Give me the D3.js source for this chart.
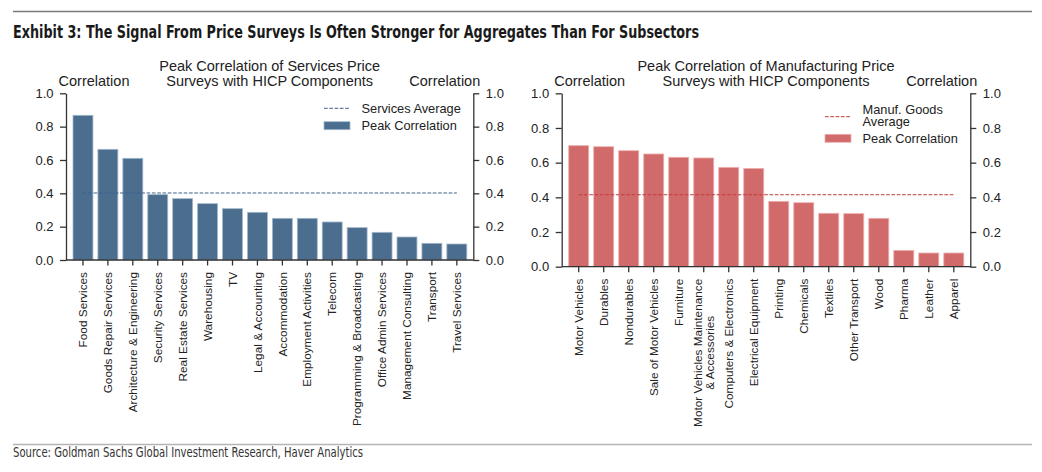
<!DOCTYPE html>
<html>
<head>
<meta charset="utf-8">
<script src="https://cdn.jsdelivr.net/npm/d3@7"></script>
<style>
  body { margin: 0; background: #fff; }
  svg { display: block; font-family: "Liberation Sans", Arial, sans-serif; }
  .axis text { fill: #222; font-size: 13px; font-family: "Liberation Sans", Arial, sans-serif; }
  .axis line, .axis path { stroke: #333; stroke-width: 1.3; }
</style>
</head>
<body>
<div id="chart"></div>
<script>
// Data
const serviceCategories = [
  "Food Services", "Goods Repair Services", "Architecture & Engineering",
  "Security Services", "Real Estate Services", "Warehousing", "TV",
  "Legal & Accounting", "Accommodation", "Employment Activities", "Telecom",
  "Programming & Broadcasting", "Office Admin Services",
  "Management Consulting", "Transport", "Travel Services"
];
const serviceValues = [0.868, 0.664, 0.61, 0.392, 0.368, 0.338, 0.308, 0.286,
  0.25, 0.25, 0.228, 0.194, 0.166, 0.138, 0.10, 0.096];
const servicesAverage = 0.402;

const manufCategories = [
  "Motor Vehicles", "Durables", "Nondurables", "Sale of Motor Vehicles",
  "Furniture", "Motor Vehicles Maintenance\n& Accessories",
  "Computers & Electronics", "Electrical Equipment", "Printing", "Chemicals",
  "Textiles", "Other Transport", "Wood", "Pharma", "Leather", "Apparel"
];
const manufValues = [0.698, 0.692, 0.669, 0.65, 0.631, 0.627, 0.573, 0.567,
  0.377, 0.369, 0.308, 0.306, 0.279, 0.094, 0.079, 0.079];
const manufAverage = 0.415;

const yTicks = [0, 0.2, 0.4, 0.6, 0.8, 1.0];

const width = 1042;
const height = 472;

const svg = d3.select('#chart')
  .append('svg')
  .attr('width', width)
  .attr('height', height);

// header + footer
svg.append('line')
  .attr('x1', 13).attr('x2', 1032).attr('y1', 11.5).attr('y2', 11.5)
  .attr('stroke', '#7a7a7a').attr('stroke-width', 1.3);

svg.append('text')
  .attr('x', 13).attr('y', 38)
  .attr('textLength', 686).attr('lengthAdjust', 'spacingAndGlyphs')
  .style('font-family', '"Liberation Sans Narrow", "DejaVu Sans Condensed", sans-serif')
  .style('font-weight', 'bold')
  .style('font-size', '18.5px')
  .attr('fill', '#1a1a1a')
  .text('Exhibit 3: The Signal From Price Surveys Is Often Stronger for Aggregates Than For Subsectors');

svg.append('line')
  .attr('x1', 13).attr('x2', 1032).attr('y1', 444.5).attr('y2', 444.5)
  .attr('stroke', '#b5b5b5').attr('stroke-width', 1.3);

svg.append('text')
  .attr('x', 13).attr('y', 456.5)
  .attr('textLength', 350).attr('lengthAdjust', 'spacingAndGlyphs')
  .style('font-family', '"Liberation Sans Narrow", "DejaVu Sans Condensed", sans-serif')
  .style('font-size', '13.5px')
  .attr('fill', '#333')
  .text('Source: Goldman Sachs Global Investment Research, Haver Analytics');

function drawPanel(p) {
  const g = svg.append('g');

  const x = d3.scaleBand()
    .domain(p.categories)
    .range([p.left + 7, p.right - 6.5])
    .paddingInner(0.2)
    .paddingOuter(0);

  const y = d3.scaleLinear()
    .domain([0, 1])
    .range([p.bottom, p.top]);

  // bars
  g.append('g')
    .selectAll('rect')
    .data(p.values.map((v, i) => ({ cat: p.categories[i], value: v })))
    .join('rect')
    .attr('x', d => x(d.cat))
    .attr('y', d => y(d.value))
    .attr('width', x.bandwidth())
    .attr('height', d => y(0) - y(d.value))
    .attr('fill', p.fill)
    .attr('stroke', p.edge)
    .attr('stroke-width', 0.8);

  // average line, from first to last bar centre
  const first = p.categories[0];
  const last = p.categories[p.categories.length - 1];
  g.append('line')
    .attr('x1', x(first) + x.bandwidth() / 2)
    .attr('x2', x(last) + x.bandwidth() / 2)
    .attr('y1', y(p.average))
    .attr('y2', y(p.average))
    .attr('stroke', p.lineColor)
    .attr('stroke-width', 1)
    .attr('stroke-dasharray', '3.7,1.6');

  // y axes on both sides
  g.append('g')
    .attr('class', 'axis')
    .attr('transform', `translate(${p.left},0)`)
    .call(d3.axisLeft(y).tickValues(yTicks).tickFormat(d3.format('.1f'))
      .tickSize(6).tickSizeOuter(0).tickPadding(6.5));

  g.append('g')
    .attr('class', 'axis')
    .attr('transform', `translate(${p.right},0)`)
    .call(d3.axisRight(y).tickValues(yTicks).tickFormat(d3.format('.1f'))
      .tickSize(6).tickSizeOuter(0).tickPadding(6.5));

  // x axis: ticks from the band scale, baseline across the whole frame
  const xAxis = g.append('g')
    .attr('class', 'axis')
    .attr('transform', `translate(0,${p.bottom})`)
    .call(d3.axisBottom(x).tickSize(5.5).tickSizeOuter(0).tickFormat(''));
  xAxis.select('.domain').remove();

  g.append('line')
    .attr('x1', p.left).attr('x2', p.right)
    .attr('y1', p.bottom).attr('y2', p.bottom)
    .attr('stroke', '#333').attr('stroke-width', 1.3);

  // rotated category labels, possibly two lines centred on each other
  const labelTop = p.bottom + 12;
  p.categories.forEach(cat => {
    const lines = cat.split('\n');
    const cx = x(cat) + x.bandwidth() / 2;
    const t = g.append('text')
      .attr('transform', `translate(${cx},0) rotate(-90)`)
      .attr('text-anchor', 'middle')
      .style('font-size', '11.8px')
      .attr('fill', '#222');
    const spans = lines.map((ln, i) => t.append('tspan')
      .attr('dy', i === 0 ? `${0.35 - (lines.length - 1) * 0.52}em` : '1.04em')
      .text(ln));
    const maxLen = d3.max(spans, s => s.node().getComputedTextLength());
    spans.forEach(s => s.attr('x', -(labelTop + maxLen / 2)));
  });

  // titles
  const mid = (p.left + p.right) / 2;
  g.append('text')
    .attr('x', mid).attr('y', 71)
    .attr('text-anchor', 'middle')
    .style('font-size', '14.5px').attr('fill', '#222')
    .text(p.title[0]);
  g.append('text')
    .attr('x', mid).attr('y', 85.5)
    .attr('text-anchor', 'middle')
    .style('font-size', '14.5px').attr('fill', '#222')
    .text(p.title[1]);
  g.append('text')
    .attr('x', p.left + 28).attr('y', 86)
    .attr('text-anchor', 'middle')
    .style('font-size', '14.5px').attr('fill', '#222')
    .text('Correlation');
  g.append('text')
    .attr('x', p.right - 28.5).attr('y', 86)
    .attr('text-anchor', 'middle')
    .style('font-size', '14.5px').attr('fill', '#222')
    .text('Correlation');

  // legend
  const lg = g.append('g');
  lg.append('line')
    .attr('x1', p.legend.x).attr('x2', p.legend.x + 26)
    .attr('y1', p.legend.lineY).attr('y2', p.legend.lineY)
    .attr('stroke', p.lineColor).attr('stroke-width', 1)
    .attr('stroke-dasharray', '3.7,1.6');
  p.legend.lineText.forEach((s, i) => {
    lg.append('text')
      .attr('x', p.legend.x + 37.5)
      .attr('y', p.legend.lineTextY + i * 12.8)
      .style('font-size', '12.8px').attr('fill', '#222')
      .text(s);
  });
  lg.append('rect')
    .attr('x', p.legend.x).attr('y', p.legend.patchY)
    .attr('width', 26).attr('height', 8)
    .attr('fill', p.fill).attr('stroke', p.edge).attr('stroke-width', 0.8);
  lg.append('text')
    .attr('x', p.legend.x + 37.5)
    .attr('y', p.legend.patchY + 8.5)
    .style('font-size', '12.8px').attr('fill', '#222')
    .text('Peak Correlation');
}

drawPanel({
  categories: serviceCategories,
  values: serviceValues,
  average: servicesAverage,
  left: 66, right: 473.3, top: 93.3, bottom: 260,
  fill: '#4b6d8e', edge: '#a3b8cc', lineColor: '#3e6389',
  title: ['Peak Correlation of Services Price', 'Surveys with HICP Components'],
  legend: { x: 324, lineY: 108.3, lineText: ['Services Average'], lineTextY: 113, patchY: 121.7 }
});

drawPanel({
  categories: manufCategories,
  values: manufValues,
  average: manufAverage,
  left: 561.7, right: 970.3, top: 93.3, bottom: 266.7,
  fill: '#d16b6b', edge: '#eeb0b0', lineColor: '#c23b3b',
  title: ['Peak Correlation of Manufacturing Price', 'Surveys with HICP Components'],
  legend: { x: 825, lineY: 116.7, lineText: ['Manuf. Goods', 'Average'], lineTextY: 113.5, patchY: 134.3 }
});
</script>
</body>
</html>
